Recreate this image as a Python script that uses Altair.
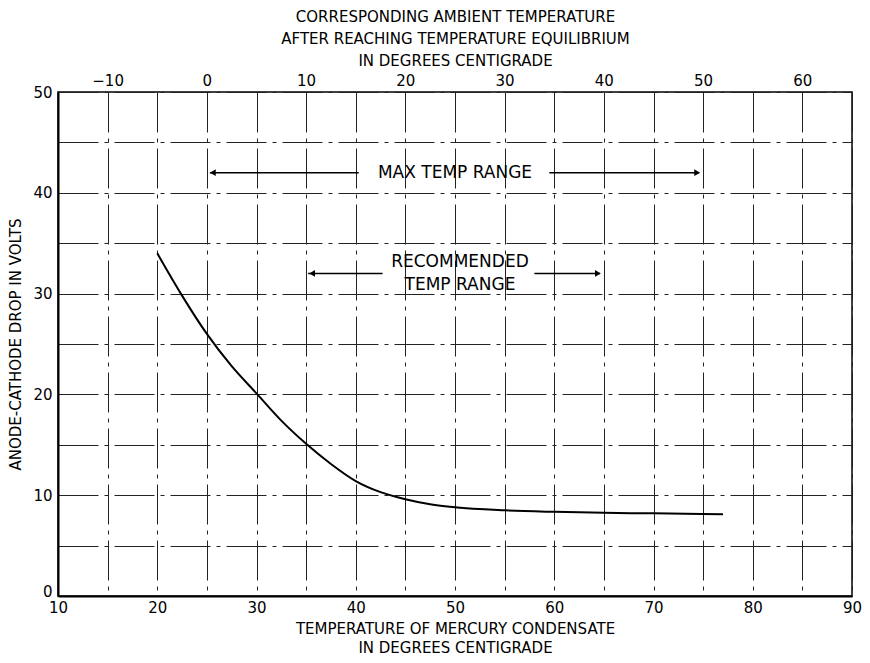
import altair as alt
import pandas as pd

# Curve: anode-cathode drop vs mercury condensate temperature
cond_temp = [20, 22.5, 25, 27.5, 30, 32.5, 35, 37.5, 40, 42.5, 45, 47.5, 50, 55, 60, 65, 70, 77]
drop_volts = [34, 29.8, 26, 22.8, 20.1, 17.4, 15.1, 13.1, 11.4, 10.3, 9.6, 9.1, 8.8, 8.5, 8.35, 8.25, 8.2, 8.1]

# Annotations (in ambient-temperature units, top axis)
seg_x = [0.3, 34.5, 10.2, 33.0]
seg_x2 = [15.3, 49.6, 17.7, 39.6]
seg_y = [42, 42, 32, 32]

arrow_x = [0.6, 49.4, 10.6, 39.4]
arrow_y = [42, 42, 32, 32]
arrow_shape = ["triangle-left", "triangle-right", "triangle-left", "triangle-right"]

label_x = [25, 25.5, 25.5]
label_y = [42, 33.1, 30.9]
label_text = ["MAX TEMP RANGE", "RECOMMENDED", "TEMP RANGE"]

x_ticks = list(range(10, 95, 5))
y_ticks = list(range(0, 55, 5))
top_ticks = list(range(-10, 70, 10))

FONT = "DejaVu Sans"
DASH = [40, 6, 4, 6]

curve_df = pd.DataFrame({"cond": cond_temp, "volts": drop_volts})
seg_df = pd.DataFrame({"x": seg_x, "x2": seg_x2, "volts": seg_y})
arrow_df = pd.DataFrame({"x": arrow_x, "volts": arrow_y, "shape": arrow_shape})
label_df = pd.DataFrame({"x": label_x, "volts": label_y, "text": label_text})

x_bottom = alt.X(
    "cond:Q",
    scale=alt.Scale(domain=[10, 90], nice=False, zero=False),
    axis=alt.Axis(
        orient="bottom",
        values=x_ticks,
        labelExpr="datum.value % 10 == 0 ? datum.label : ''",
        labelFlush=False,
        grid=True, gridDash=DASH, gridColor="#222", gridWidth=1,
        ticks=False, domainColor="black", domainWidth=2,
        labelPadding=4, labelFontSize=15,
        title=["TEMPERATURE OF MERCURY CONDENSATE", "IN DEGREES CENTIGRADE"],
        titlePadding=6, titleLineHeight=19,
    ),
)
y_left = alt.Y(
    "volts:Q",
    scale=alt.Scale(domain=[0, 50], nice=False),
    axis=alt.Axis(
        values=y_ticks,
        labelExpr="datum.value % 10 == 0 ? datum.label : ''",
        labelFlush=False,
        labelOffset={"condition": {"test": "datum.value === 0", "value": -5}, "value": 0},
        grid=True, gridDash=DASH, gridColor="#222", gridWidth=1,
        ticks=False, domainColor="black", domainWidth=2,
        labelPadding=6, labelFontSize=15,
        title="ANODE-CATHODE DROP IN VOLTS",
        titlePadding=9,
    ),
)

curve = alt.Chart(curve_df).mark_line(
    color="black", strokeWidth=2, interpolate="monotone"
).encode(x=x_bottom, y=y_left)

x_top_scale = alt.Scale(domain=[-15, 65], nice=False, zero=False)

segs = alt.Chart(seg_df).mark_rule(color="black", strokeWidth=1.5).encode(
    x=alt.X(
        "x:Q",
        scale=x_top_scale,
        axis=alt.Axis(
            orient="top", values=top_ticks, grid=False, ticks=False,
            domain=False, labelPadding=4, labelFontSize=15, labelFlush=False,
            title=["CORRESPONDING AMBIENT TEMPERATURE",
                   "AFTER REACHING TEMPERATURE EQUILIBRIUM",
                   "IN DEGREES CENTIGRADE"],
            titlePadding=5, titleLineHeight=22,
        ),
    ),
    x2="x2:Q",
    y=y_left,
)
arrows = alt.Chart(arrow_df).mark_point(
    filled=True, color="black", size=45, opacity=1
).encode(
    x=alt.X("x:Q", scale=x_top_scale),
    y=y_left,
    shape=alt.Shape("shape:N", scale=None),
)
labels = alt.Chart(label_df).mark_text(
    font=FONT, fontSize=17, color="black", align="center", baseline="middle"
).encode(
    x=alt.X("x:Q", scale=x_top_scale),
    y=y_left,
    text="text:N",
)

annot = alt.layer(segs, arrows, labels)

chart = (
    alt.layer(curve, annot)
    .resolve_scale(x="independent")
    .properties(
        width=794, height=504,
        autosize=alt.AutoSizeParams(type="none"),
        padding={"left": 50, "top": 84, "right": 10, "bottom": 59},
        background="white",
    )
    .configure_view(stroke="black", strokeWidth=1.5)
    .configure_axis(
        labelFont=FONT, titleFont=FONT, labelColor="black", titleColor="black",
        titleFontWeight="normal", titleFontSize=15,
    )
)

chart.save("out.html", embed_options={"renderer": "svg", "actions": False})
